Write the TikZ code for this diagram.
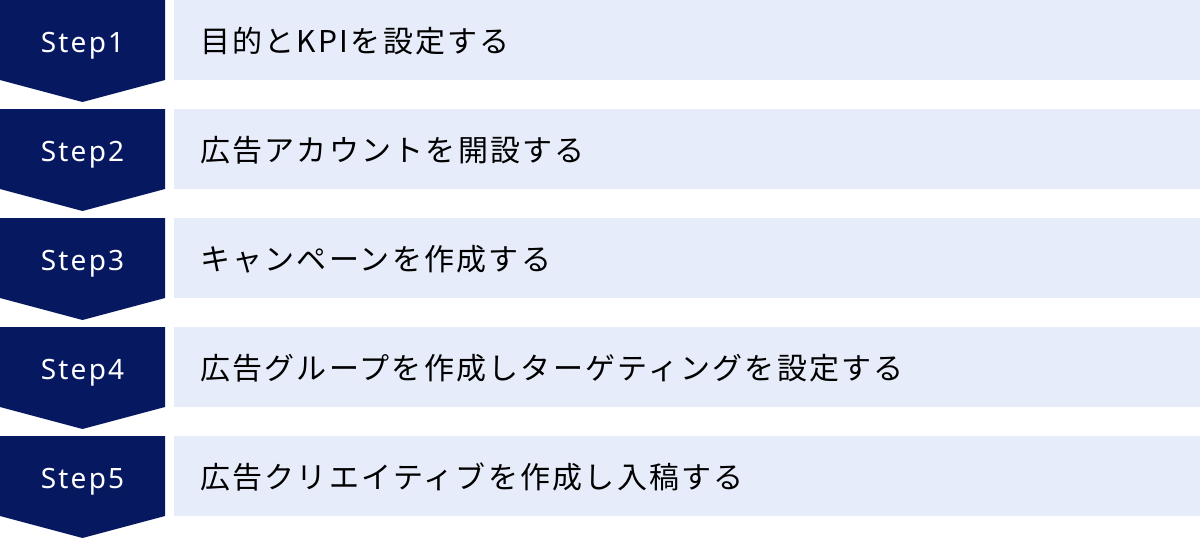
\documentclass[tikz,border=0pt]{standalone}
\usepackage{fontspec}
\newfontfamily\jpfont[LetterSpace=7.5]{Noto Sans CJK JP}
\newfontfamily\stepfont[LetterSpace=8]{Noto Sans}
\definecolor{navy}{RGB}{6,24,96}
\definecolor{lightbg}{RGB}{230,236,249}
\tikzset{
  stepshape/.style={fill=navy, draw=none},
  barshape/.style={fill=lightbg, draw=none},
  steplabel/.style={text=white, inner sep=0pt, anchor=base, font=\stepfont\fontsize{28}{32}\selectfont},
  barlabel/.style={text=black, inner sep=0pt, anchor=base west, font=\jpfont\fontsize{30}{36}\selectfont}
}
\begin{document}
\begin{tikzpicture}[x=1pt,y=-1pt]
\useasboundingbox (0,0) rectangle (1200,538);
\foreach \i/\txt in {1/目的とKPIを設定する,2/広告アカウントを開設する,3/キャンペーンを作成する,4/広告グループを作成しターゲティングを設定する,5/広告クリエイティブを作成し入稿する}{
  \pgfmathsetmacro{\t}{109*(\i-1)}
  \fill[stepshape] (0,\t) -- (165,\t) -- (165,\t+80) -- (82.5,\t+102) -- (0,\t+80) -- cycle;
  \fill[barshape] (174,\t) rectangle (1200,\t+80);
  \node[steplabel] (s\i) at (82.5,\t+52) {Step\i};
  \node[barlabel] (b\i) at (200,\t+52) {\txt};
}
\end{tikzpicture}
\end{document}
